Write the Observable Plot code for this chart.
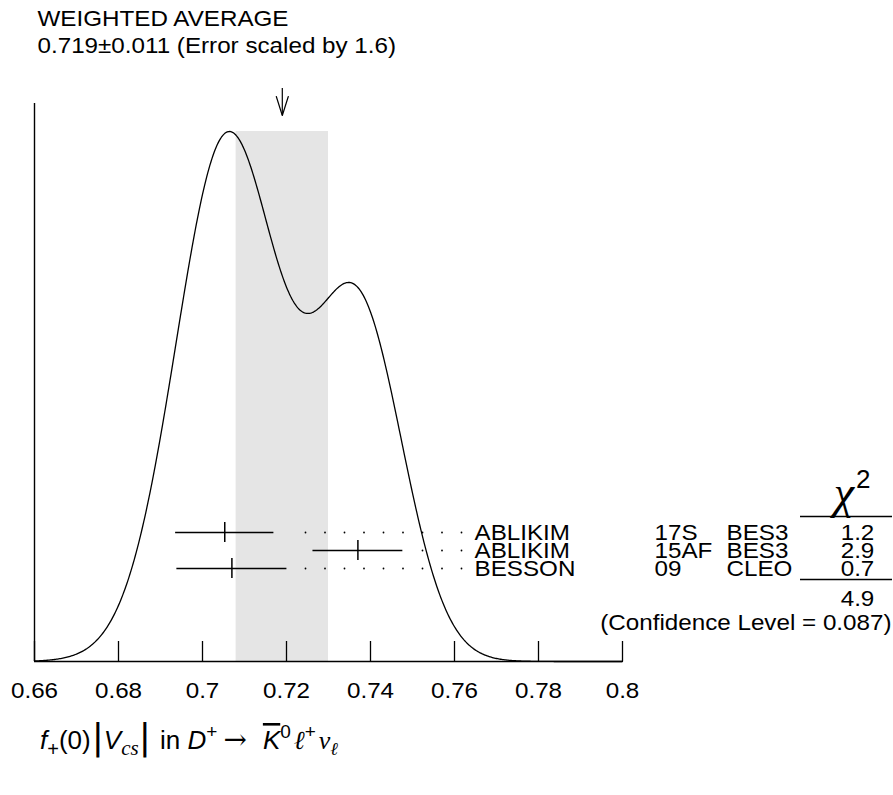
<!DOCTYPE html>
<html>
<head>
<meta charset="utf-8">
<script src="https://cdn.jsdelivr.net/npm/d3@7"></script>
<script src="https://cdn.jsdelivr.net/npm/@observablehq/plot@0.6"></script>
<style>
  html, body { margin: 0; padding: 0; background: #fff; }
  #chart { width: 893px; height: 795px; }
</style>
</head>
<body>
<div id="chart"></div>
<script>
// ---- data ----
const titleLines = ["WEIGHTED AVERAGE", "0.719\u00b10.011 (Error scaled by 1.6)"];
const avgValue = 0.719;
const avgError = 0.011;
const names   = ["ABLIKIM", "ABLIKIM", "BESSON"];
const years   = ["17S", "15AF", "09"];
const experiments = ["BES3", "BES3", "CLEO"];
const values  = [0.7053, 0.7370, 0.7070];
const errors  = [0.0117, 0.0107, 0.0131];
const chi2    = ["1.2", "2.9", "0.7"];
const chi2Total = "4.9";
const confLevel = "(Confidence Level = 0.087)";
const xTicks  = [0.66, 0.68, 0.70, 0.72, 0.74, 0.76, 0.78, 0.80];
const xTickLabels = ["0.66", "0.68", "0.7", "0.72", "0.74", "0.76", "0.78", "0.8"];

// ---- layout ----
const W = 893, H = 795;
const mL = 34, mR = 271, mT = 103, baseY = 661, peakY = 131;
const x0 = 0.66, x1 = 0.80;
const pxPerUnit = (W - mL - mR) / (x1 - x0);
const px2x = px => x0 + (px - mL) / pxPerUnit;          // annotation helpers
const pxW = px => px / pxPerUnit;
const py2y = py => (baseY - py) / (baseY - peakY);
const yTop = py2y(mT);
const FS = 22, STRETCH = 1.1;

// ideogram: each measurement a Gaussian of area proportional to 1/error
const meas = values.map((v, i) => ({v, e: errors[i], name: names[i], year: years[i], exp: experiments[i], chi: chi2[i], i}));
const ideo = [];
for (let k = 0; k <= 560; k++) {
  const xv = x0 + k * (x1 - x0) / 560;
  let s = 0;
  for (const m of meas) s += Math.exp(-0.5 * ((xv - m.v) / m.e) ** 2) / (m.e * m.e);
  ideo.push({x: xv, s});
}
const sMax = d3.max(ideo, d => d.s);
ideo.forEach(d => d.y = d.s / sMax);

const rowPy = [532, 550, 568];
meas.forEach(m => m.y = py2y(rowPy[m.i]));

// dotted leaders
const nameX = 474, dotStep = 19.5, lastDot = 461;
const dots = [];
for (const m of meas) {
  const endPx = mL + (m.v + m.e - x0) * pxPerUnit;
  for (let p = lastDot; p > endPx + 14; p -= dotStep) dots.push({x: px2x(p), y: m.y});
}

// arrow head (open V) above the average
const head = [
  {x: avgValue - pxW(6), y: py2y(96)},
  {x: avgValue, y: py2y(115)},
  {x: avgValue + pxW(6), y: py2y(96)}
];

const F = "Liberation Sans, Arial, Helvetica, sans-serif";
const plot = Plot.plot({
  width: W, height: H,
  marginLeft: mL, marginRight: mR, marginTop: mT, marginBottom: H - baseY,
  style: {fontFamily: F, fontSize: FS + "px", background: "#fff", color: "#000", overflow: "visible"},
  x: {domain: [x0, x1], axis: null},
  y: {domain: [0, yTop], axis: null},
  marks: [
    Plot.rect([avgValue], {x1: d => d - avgError, x2: d => d + avgError, y1: 0, y2: 1, fill: "#e5e5e5"}),
    Plot.line(ideo, {x: "x", y: "y", stroke: "#000", strokeWidth: 1.3}),
    Plot.ruleY([0], {stroke: "#000", strokeWidth: 1.6}),
    Plot.ruleX([x0], {y1: 0, y2: yTop, stroke: "#000", strokeWidth: 1.4}),
    Plot.ruleX(xTicks, {x: d => d, y1: 0, y2: 0, insetTop: -20, stroke: "#000", strokeWidth: 1.3}),
    Plot.text(xTicks, {x: d => d, y: py2y(690), text: (d, i) => xTickLabels[i], fontSize: FS, lineAnchor: "middle", textAnchor: "middle"}),
    // arrow to the weighted average
    Plot.ruleX([avgValue], {x: d => d, y1: py2y(88), y2: py2y(115), stroke: "#000", strokeWidth: 1.2}),
    Plot.line(head, {x: "x", y: "y", stroke: "#000", strokeWidth: 1.2}),
    // title
    Plot.text(titleLines, {x: px2x(37), y: (d, i) => py2y([18, 45][i]), text: d => d, textAnchor: "start", lineAnchor: "middle", fontSize: FS}),
    // measurements
    Plot.dot(dots, {x: "x", y: "y", r: 0.9, fill: "#000", stroke: null}),
    Plot.ruleY(meas, {y: "y", x1: d => d.v - d.e, x2: d => d.v + d.e, stroke: "#000", strokeWidth: 1.5}),
    Plot.ruleX(meas, {x: "v", y1: "y", y2: "y", insetTop: -10, insetBottom: -10, stroke: "#000", strokeWidth: 1.5}),
    Plot.text(meas, {x: px2x(nameX), y: "y", text: "name", textAnchor: "start", lineAnchor: "middle", fontSize: FS}),
    Plot.text(meas, {x: px2x(654), y: "y", text: "year", textAnchor: "start", lineAnchor: "middle", fontSize: FS}),
    Plot.text(meas, {x: px2x(726), y: "y", text: "exp", textAnchor: "start", lineAnchor: "middle", fontSize: FS}),
    Plot.text(meas, {x: px2x(857), y: "y", text: "chi", textAnchor: "middle", lineAnchor: "middle", fontSize: FS}),
    // chi2 totals
    Plot.ruleY([py2y(516), py2y(579)], {y: d => d, x1: px2x(800), x2: px2x(892), stroke: "#000", strokeWidth: 1.3}),
    Plot.text([chi2Total], {x: px2x(857), y: py2y(598), text: d => d, textAnchor: "middle", lineAnchor: "middle", fontSize: FS}),
    Plot.text([confLevel], {x: px2x(891), y: py2y(622), text: d => d, textAnchor: "end", lineAnchor: "middle", fontSize: FS})
  ]
});
document.getElementById("chart").appendChild(plot);

// widen the sans-serif glyphs like the reference rendering
plot.querySelectorAll("text").forEach(t => {
  const L = t.getComputedTextLength();
  if (L > 0) {
    t.setAttribute("textLength", (L * STRETCH).toFixed(2));
    t.setAttribute("lengthAdjust", "spacingAndGlyphs");
  }
});

const svg = d3.select(plot);
// chi-squared header
const chiHead = svg.append("text").attr("x", 852).attr("y", 508).attr("text-anchor", "middle")
  .attr("fill", "#000");
chiHead.append("tspan").attr("font-family", "Liberation Serif, serif").attr("font-style", "italic")
  .attr("font-size", 46).text("\u03c7");
chiHead.append("tspan").attr("font-family", F).attr("font-size", 26).attr("dy", -20).attr("dx", 2).text("2");

// x-axis label (math typeset with tspans)
const lab = svg.append("text").attr("x", 40).attr("y", 749).attr("text-anchor", "start")
  .attr("font-family", F).attr("font-size", 26).attr("fill", "#000");
const parts = [
  {t: "f", it: true},
  {t: "+", size: 20, dy: 7},
  {t: "(0)", dy: -7},
  {t: "|", size: 36, font: "DejaVu Sans", dx: 1},
  {t: "V", it: true},
  {t: "cs", it: true, font: "Liberation Serif, serif", size: 21, dy: 6},
  {t: "|", size: 36, font: "DejaVu Sans", dy: -6},
  {t: " in ", dx: 2},
  {t: "D", it: true},
  {t: "+", size: 19, dy: -11},
  {t: "\u2192", dy: 11, dx: 6, font: "DejaVu Serif", size: 28},
  {t: "K", it: true, dx: 16, over: true},
  {t: "0", size: 19, dy: -11},
  {t: "\u2113", it: true, font: "Liberation Serif, serif", dy: 11, dx: 3},
  {t: "+", size: 19, dy: -11},
  {t: "\u03bd", it: true, font: "Liberation Serif, serif", dy: 11, dx: 3},
  {t: "\u2113", it: true, font: "Liberation Serif, serif", size: 18, dy: 6}
];
for (const p of parts) {
  const ts = lab.append("tspan").text(p.t);
  if (p.it) ts.attr("font-style", "italic");
  if (p.size) ts.attr("font-size", p.size);
  if (p.font) ts.attr("font-family", p.font);
  if (p.dy) ts.attr("dy", p.dy);
  if (p.dx) ts.attr("dx", p.dx);
  if (p.over) ts.style("text-decoration", "overline");
}
</script>
</body>
</html>
